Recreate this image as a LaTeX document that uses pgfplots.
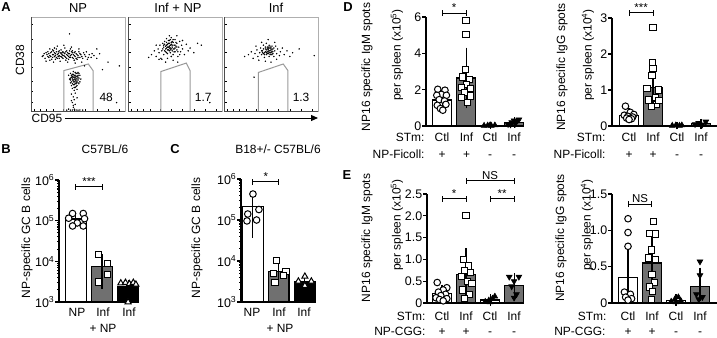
\documentclass[border=0pt]{standalone}
\usepackage{pgfplots}
\pgfplotsset{compat=1.18}
\usepackage{fontspec}
\setmainfont{Liberation Sans}
\usetikzlibrary{arrows.meta}
\definecolor{bgray}{RGB}{112,112,112}
\definecolor{fgray}{RGB}{175,175,175}
\newcommand{\fs}{\fontsize{11.5}{13}\selectfont}
\newcommand{\fr}{\fontsize{12}{14}\selectfont}
\newcommand{\fk}{\fontsize{12.5}{14}\selectfont}
\newcommand{\ft}{\fontsize{13}{15}\selectfont}
\newcommand{\fl}{\fontsize{13}{15}\selectfont\bfseries}

\pgfplotsset{
  flow/.style={scale only axis, anchor=south west, width=94bp, height=94bp,
    xmin=0, xmax=100, ymin=0, ymax=100, clip=false,
    axis line style={draw=fgray, line width=0.8bp},
    xtick={4,10,16,24,34,46,58,70,82,94}, ytick={9.6,21.3,31.9,46.8,62.8,76.6,92.5},
    xticklabels={}, yticklabels={},
    xtick pos=bottom, ytick pos=left, tick align=inside, major tick length=2.5bp,
    tick style={black, line width=0.6bp}},
  dots/.style={only marks, mark=*, mark size=0.5bp, mark options={draw=none, fill=black!80}},
  gate/.style={draw=black!40, line width=1bp},
  prism/.style={scale only axis, anchor=south west, clip=false,
    axis x line*=bottom, axis y line*=left,
    axis line style={line width=1.1bp, black},
    xtick=\empty, tick align=outside, major tick length=4bp,
    ytick style={line width=1.1bp, black},
    yticklabel style={font=\fk, inner sep=0.5bp}},
  pbar/.style={ybar, bar shift=0pt, bar width=0.78, draw=black, line width=1.1bp, fill=#1,
    error bars/y dir=both, error bars/y explicit,
    error bars/error bar style={line width=1.1bp, black},
    error bars/error mark options={mark size=3.5bp, line width=1.1bp, black}},
  circ/.style={only marks, mark=*, mark size=3.3bp, mark options={fill=white, draw=black, line width=1bp}},
  sq/.style={only marks, mark=square*, mark size=3.1bp, mark options={fill=white, draw=black, line width=1bp}},
  tri/.style={only marks, mark=triangle*, mark size=3.3bp, mark options={fill=black, draw=black, line width=0.6bp}},
  trid/.style={only marks, mark=triangle*, mark size=3.3bp, mark options={fill=black, draw=black, line width=0.6bp, rotate=180}},
  triw/.style={only marks, mark=triangle*, mark size=3.5bp, mark options={fill=white, draw=black, line width=1bp}},
}
\newcommand{\sig}[5]{%
  \draw[line width=1bp] (axis cs:#1,#3) -- (axis cs:#2,#3);
  \draw[line width=1bp] ([yshift=-3bp]axis cs:#1,#3) -- ([yshift=3bp]axis cs:#1,#3);
  \draw[line width=1bp] ([yshift=-3bp]axis cs:#2,#3) -- ([yshift=3bp]axis cs:#2,#3);
  \node[font=\fs, anchor=south, inner sep=1bp] at (axis cs:#4,#3) {#5};
}

\begin{document}
\begin{tikzpicture}
\path[use as bounding box] (0,0) rectangle (717bp,-338bp);

% ---------------- Panel A ----------------
\begin{axis}[flow, at={(31bp,-111bp)}]
\addplot[gate] coordinates {(35,0) (35,43) (61,50) (66,43) (66,0)};
\addplot[dots] coordinates {
(12,58) (14,61) (15,56) (17,60) (18,63) (19,57) (20,59) (21,62) (22,55) (23,60) (24,64) (25,58) (26,61) (27,57) (27,66) (28,60) (29,63) (30,56) (30,59) (31,62) (32,58) (32,65) (33,60) (34,56) (34,63) (35,59) (36,61) (36,67) (37,57) (38,60) (38,64) (39,62) (40,58) (40,55) (41,61) (42,59) (42,66) (43,63) (44,57) (45,60) (46,54) (46,62) (47,58) (48,61) (49,55) (50,59) (51,63) (52,57) (53,60) (55,56) (56,62) (58,58) (60,55) (62,60) (64,57) (67,59) (70,56) (73,61) (16,53) (20,66) (24,52) (28,69) (31,53) (35,70) (39,52) (43,68) (47,51) (51,66) (54,52) (25,67) (37,54) (33,62) (29,58) (26,55) (21,58) (44,64) (48,56) (41,57)
(13,59) (16,62) (18,58) (19,61) (22,63) (23,57) (24,60) (25,62) (26,59) (27,63) (28,56) (29,61) (30,64) (31,58) (32,61) (33,57) (34,59) (35,62) (36,58) (37,63) (38,56) (39,59) (40,61) (41,64) (42,57) (43,60) (44,62) (45,56) (46,59) (47,63) (49,60) (50,57) (52,61) (54,58) (57,60) (59,63) (61,57) (65,61) (20,54) (23,65)
(41,82) (82,52) (94,48) (91,9) (76,44) (57,48) (70,66)
(40,38) (41,34) (42,40) (42,30) (43,36) (43,27) (44,33) (44,39) (45,31) (45,36) (45,42) (46,28) (46,34) (46,38) (47,32) (47,25) (47,36) (48,30) (48,40) (48,34) (49,27) (49,37) (50,33) (50,41) (51,29) (51,35) (52,38) (52,31) (53,34) (44,24) (46,22) (49,23) (42,35) (50,36) (47,29) (45,39) (48,26) (43,31) (51,40) (44,29)
(43,38) (44,35) (45,33) (46,36) (46,31) (47,38) (47,34) (48,37) (48,32) (49,35) (49,31) (50,38) (45,28) (47,41) (44,37) (49,40) (46,25) (48,29) (50,30) (42,33)
(43,18) (45,15) (46,12) (44,9) (47,7) (45,4) (46,2) (48,1) (42,1) (50,1) (44,1) (47,19) (49,14) (43,11) (45,6) (40,2) (52,1) (38,1) (55,1)};
\node[font=\fr] at (axis cs:80,15) {48};
\draw[black!70, line width=0.8bp] (rel axis cs:0,1) -- (rel axis cs:0,0) -- (rel axis cs:1,0);
\end{axis}

\begin{axis}[flow, at={(128bp,-111bp)}]
\addplot[gate] coordinates {(35,0) (35,42) (62,51) (66,43) (66,0)};
\addplot[dots] coordinates {
(25,60) (28,64) (30,58) (32,66) (33,62) (34,70) (35,56) (36,64) (37,72) (38,60) (38,68) (39,74) (40,63) (40,66) (41,70) (41,77) (42,61) (42,68) (43,65) (43,72) (44,69) (44,75) (45,62) (45,67) (46,71) (46,78) (47,64) (47,68) (48,73) (48,60) (49,66) (49,70) (50,76) (50,63) (51,69) (52,65) (52,72) (53,58) (54,68) (55,74) (56,63) (57,70) (58,66) (60,60) (62,71) (64,64) (66,67) (70,62) (74,72) (36,55) (42,56) (48,54) (53,52) (30,70) (44,80) (52,80) (58,75) (46,58) (40,52) (55,60) (33,55)
(37,66) (38,70) (39,64) (40,69) (41,67) (41,73) (42,65) (42,71) (43,68) (43,75) (44,64) (44,72) (45,70) (45,76) (46,66) (46,73) (47,70) (48,66) (48,76) (49,63) (50,70) (50,67) (51,73) (52,68) (53,63) (39,71) (44,67) (47,74) (45,65) (41,62)
(87,9) (22,57) (78,70)};
\node[font=\fr] at (axis cs:80,15) {1.7};
\draw[black!70, line width=0.8bp] (rel axis cs:0,1) -- (rel axis cs:0,0) -- (rel axis cs:1,0);
\end{axis}

\begin{axis}[flow, at={(224bp,-111bp)}]
\addplot[gate] coordinates {(36.5,0) (36.5,41) (63,50) (68,43) (68,0)};
\addplot[dots] coordinates {
(22,58) (26,60) (29,63) (31,56) (33,61) (35,65) (36,58) (38,62) (39,67) (40,60) (41,64) (42,70) (43,57) (43,62) (44,66) (45,60) (45,72) (46,63) (46,68) (47,61) (47,65) (48,64) (48,58) (48,70) (49,62) (49,67) (50,60) (50,65) (51,63) (51,69) (52,61) (52,66) (53,58) (54,64) (55,69) (56,61) (57,66) (59,59) (60,63) (62,67) (64,60) (67,64) (70,58) (73,62) (37,54) (44,53) (50,52) (56,55) (40,73) (47,76) (54,73) (34,69)
(40,64) (41,62) (42,66) (43,60) (44,63) (44,68) (45,65) (46,61) (46,66) (47,63) (47,68) (48,62) (48,67) (49,64) (49,69) (50,62) (50,67) (51,65) (52,63) (53,67) (45,62) (47,66) (49,60) (42,61) (51,60)
(96,59) (32,36) (80,66)};
\node[font=\fr] at (axis cs:82,15) {1.3};
\draw[black!70, line width=0.8bp] (rel axis cs:0,1) -- (rel axis cs:0,0) -- (rel axis cs:1,0);
\end{axis}

\draw[line width=1bp, -{Triangle[length=7bp, width=6bp]}] (65bp,-118bp) -- (318bp,-118bp);
\node[font=\ft] at (78bp,-8bp) {NP};
\node[font=\ft] at (178bp,-8bp) {Inf + NP};
\node[font=\ft] at (276bp,-8bp) {Inf};
\node[font=\fr, rotate=90] at (20bp,-60bp) {CD38};
\node[font=\fr] at (47bp,-118bp) {CD95};

% ---------------- Panel B ----------------
\begin{axis}[prism, at={(59bp,-302bp)}, width=79bp, height=122bp,
  xmin=0.35, xmax=3.38, ymode=log, ymin=1e3, ymax=1e6, log origin=infty,
  ytick={1e3,1e4,1e5,1e6},
  yticklabels={10\textsuperscript{3},10\textsuperscript{4},10\textsuperscript{5},10\textsuperscript{6}},
  minor ytick={2e3,3e3,4e3,5e3,6e3,7e3,8e3,9e3,2e4,3e4,4e4,5e4,6e4,7e4,8e4,9e4,2e5,3e5,4e5,5e5,6e5,7e5,8e5,9e5},
  minor tick length=2bp]
\addplot[pbar=white] coordinates {(1,1.1e5) += (0,2.5e4) -= (0,2e4)};
\addplot[pbar=bgray] coordinates {(2,7.4e3) += (0,5.2e3) -= (0,4.8e3)};
\addplot[pbar=black] coordinates {(3,2.4e3) += (0,0.5e3) -= (0,0.5e3)};
\addplot[circ] coordinates {(0.87,1.5e5) (1.28,1.5e5) (0.72,1.15e5) (1.33,1.12e5) (1.05,8.8e4) (0.87,7.4e4) (1.28,7.4e4)};
\addplot[sq] coordinates {(1.86,1.5e4) (2.2,8.9e3) (2.2,4.7e3) (1.88,3.1e3)};
\addplot[triw] coordinates {(2.72,2.9e3) (2.9,3.0e3) (3.05,2.8e3) (3.2,3.0e3) (3.3,2.7e3) (3.0,1.0e3)};
\sig{1}{2}{6.8e5}{1.5}{***}
\end{axis}
\node[font=\fr, rotate=90] at (27bp,-238bp) {NP-specific GC B cells};
\node[font=\fr] at (105bp,-149bp) {C57BL/6};
\node[font=\fr, anchor=base] at (77bp,-316bp) {NP};
\node[font=\fr, anchor=base] at (103bp,-316bp) {Inf};
\node[font=\fr, anchor=base] at (103bp,-332bp) {+ NP};
\node[font=\fr, anchor=base] at (129bp,-316bp) {Inf};

% ---------------- Panel C ----------------
\begin{axis}[prism, at={(241bp,-302bp)}, width=74bp, height=123bp,
  xmin=0.54, xmax=3.39, ymode=log, ymin=1e3, ymax=1e6, log origin=infty,
  ytick={1e3,1e4,1e5,1e6},
  yticklabels={10\textsuperscript{3},10\textsuperscript{4},10\textsuperscript{5},10\textsuperscript{6}},
  minor ytick={2e3,3e3,4e3,5e3,6e3,7e3,8e3,9e3,2e4,3e4,4e4,5e4,6e4,7e4,8e4,9e4,2e5,3e5,4e5,5e5,6e5,7e5,8e5,9e5},
  minor tick length=2bp]
\addplot[pbar=white] coordinates {(1,2.1e5) += (0,1.5e5) -= (0,1.65e5)};
\addplot[pbar=bgray] coordinates {(2,5.5e3) += (0,2.5e3) -= (0,2.0e3)};
\addplot[pbar=black] coordinates {(3,3.2e3) += (0,1.0e3) -= (0,0.8e3)};
\addplot[circ] coordinates {(1.0,4.3e5) (1.23,1.8e5) (0.8,1.4e5) (0.77,9.5e4) (1.14,1.0e5)};
\addplot[sq] coordinates {(1.91,1.05e4) (2.27,5.5e3) (1.78,5.0e3) (1.85,3.0e3) (2.17,4.4e3)};
\addplot[triw] coordinates {(3.0,4.2e3) (2.75,3.2e3) (3.25,3.2e3) (3.0,2.5e3)};
\sig{1}{2}{8.5e5}{1.5}{*}
\end{axis}
\node[font=\fr, rotate=90] at (197bp,-238bp) {NP-specific GC B cells};
\node[font=\fr] at (278bp,-149bp) {B18+/- C57BL/6};
\node[font=\fr, anchor=base] at (252bp,-316bp) {NP};
\node[font=\fr, anchor=base] at (279bp,-316bp) {Inf};
\node[font=\fr, anchor=base] at (280bp,-332bp) {+ NP};
\node[font=\fr, anchor=base] at (304bp,-316bp) {Inf};

% ---------------- Panel D left ----------------
\begin{axis}[prism, at={(426bp,-126bp)}, width=96bp, height=109bp,
  xmin=0.33, xmax=4.33, ymin=0, ymax=6, ytick={0,2,4,6}, yticklabels={0,2,4,6}]
\addplot[pbar=white] coordinates {(1,1.43) +- (0,0.38)};
\addplot[pbar=bgray] coordinates {(2,2.64) +- (0,1.48)};
\addplot[pbar=white] coordinates {(3,0.03) +- (0,0.01)};
\addplot[pbar=bgray] coordinates {(4,0.19) +- (0,0.09)};
\addplot[circ] coordinates {(0.82,2.02) (1.12,1.97) (0.97,1.74) (0.78,1.69) (1.18,1.69) (0.88,1.45) (1.10,1.38) (0.80,1.14) (1.16,1.19) (0.93,0.96) (1.03,0.87)};
\addplot[sq] coordinates {(2.00,5.80) (2.00,5.05) (1.98,3.10) (1.85,2.70) (2.15,2.55) (2.02,2.30) (1.80,2.10) (2.20,2.05) (1.95,1.85) (2.18,1.65) (1.82,1.55) (2.05,1.30)};
\addplot[tri] coordinates {(2.75,0.02) (2.9,0.03) (3.05,0.02) (3.2,0.04) (3.0,0.05)};
\addplot[trid] coordinates {(3.75,0.1) (3.9,0.2) (4.0,0.3) (4.1,0.25) (4.2,0.35) (3.85,0.08) (4.05,0.12)};
\sig{1}{2}{6.22}{1.5}{*}
\end{axis}
\node[font=\fr, rotate=90] at (367bp,-67bp) {NP16 specific IgM spots};
\node[font=\fr, rotate=90] at (397bp,-55bp) {per spleen (x10\textsuperscript{5})};
\node[font=\fr, anchor=base east] at (428bp,-141bp) {STm:};
\node[font=\fr, anchor=base east] at (428bp,-158bp) {NP-Ficoll:};
\foreach \x/\a/\b in {442/Ctl/+, 466.5/Inf/+, 490/Ctl/-, 514/Inf/-} {
  \node[font=\fr, anchor=base] at (\x bp,-141bp) {\a};
  \node[font=\fr, anchor=base] at (\x bp,-158bp) {\b};
}

% ---------------- Panel D right ----------------
\begin{axis}[prism, at={(612bp,-126bp)}, width=105bp, height=108bp,
  xmin=0.29, xmax=4.665, ymin=0, ymax=3, ytick={0,1,2,3}, yticklabels={0,1,2,3}]
\addplot[pbar=white] coordinates {(1,0.30) +- (0,0.1)};
\addplot[pbar=bgray] coordinates {(2,1.07) +- (0,0.5)};
\addplot[pbar=white] coordinates {(3,0.01) +- (0,0.005)};
\addplot[pbar=bgray] coordinates {(4,0.06) +- (0,0.04)};
\addplot[circ] coordinates {(0.85,0.55) (1.05,0.38) (1.2,0.32) (0.8,0.3) (0.95,0.27) (1.15,0.25) (0.9,0.22) (1.1,0.2) (1.0,0.18)};
\addplot[sq] coordinates {(2.00,2.74) (1.98,1.75) (2.00,1.60) (1.96,1.40) (1.75,1.05) (2.22,1.00) (2.10,0.80) (1.82,0.72) (2.15,0.60) (1.95,0.55) (2.25,0.70)};
\addplot[tri] coordinates {(2.8,0.01) (2.95,0.02) (3.1,0.01) (3.2,0.02)};
\addplot[trid] coordinates {(3.75,0.05) (3.9,0.08) (4.05,0.04) (4.2,0.12) (4.0,0.02)};
\sig{1}{2}{3.14}{1.5}{***}
\end{axis}
\node[font=\fr, rotate=90] at (562bp,-67bp) {NP16 specific IgG spots};
\node[font=\fr, rotate=90] at (588bp,-55bp) {per spleen (x10\textsuperscript{4})};
\node[font=\fr, anchor=base east] at (609bp,-141bp) {STm:};
\node[font=\fr, anchor=base east] at (609bp,-158bp) {NP-Ficoll:};
\foreach \x/\a/\b in {629/Ctl/+, 653/Inf/+, 677/Ctl/-, 701/Inf/-} {
  \node[font=\fr, anchor=base] at (\x bp,-141bp) {\a};
  \node[font=\fr, anchor=base] at (\x bp,-158bp) {\b};
}

% ---------------- Panel E left ----------------
\begin{axis}[prism, at={(427bp,-303bp)}, width=95bp, height=109bp,
  xmin=0.375, xmax=4.33, ymin=0, ymax=2.5, ytick={0,0.5,1,1.5,2,2.5}, yticklabels={0,0.5,1.0,1.5,2.0,2.5}]
\addplot[pbar=white] coordinates {(1,0.21) +- (0,0.13)};
\addplot[pbar=bgray] coordinates {(2,0.66) +- (0,0.52)};
\addplot[pbar=white] coordinates {(3,0.07) +- (0,0.05)};
\addplot[pbar=bgray] coordinates {(4,0.40) +- (0,0.2)};
\addplot[circ] coordinates {(0.8,0.47) (1.2,0.35) (1.05,0.3) (0.85,0.25) (1.15,0.2) (0.95,0.17) (0.75,0.12) (1.2,0.1) (0.9,0.08) (1.05,0.05)};
\addplot[sq] coordinates {(2.0,2.0) (1.9,1.0) (2.1,0.85) (1.95,0.75) (2.2,0.7) (1.8,0.6) (2.05,0.5) (2.25,0.45) (1.85,0.3) (2.15,0.2) (1.95,0.1)};
\addplot[tri] coordinates {(2.8,0.03) (2.95,0.06) (3.1,0.1) (3.2,0.15) (3.0,0.02)};
\addplot[trid] coordinates {(3.8,0.6) (4.2,0.6) (4.0,0.5) (3.9,0.38) (4.1,0.2) (4.0,0.12)};
\sig{1}{2}{2.39}{1.5}{*}
\sig{3}{4}{2.39}{3.5}{**}
\sig{2}{4}{2.80}{3}{NS}
\end{axis}
\node[font=\fr, rotate=90] at (367bp,-238bp) {NP16 specific IgM spots};
\node[font=\fr, rotate=90] at (397bp,-225bp) {per spleen (x10\textsuperscript{5})};
\node[font=\fr, anchor=base east] at (429bp,-320bp) {STm:};
\node[font=\fr, anchor=base east] at (429bp,-335bp) {NP-CGG:};
\foreach \x/\a/\b in {442/Ctl/+, 466/Inf/+, 490/Ctl/-, 514/Inf/-} {
  \node[font=\fr, anchor=base] at (\x bp,-320bp) {\a};
  \node[font=\fr, anchor=base] at (\x bp,-335bp) {\b};
}

% ---------------- Panel E right ----------------
\begin{axis}[prism, at={(612bp,-303bp)}, width=105bp, height=109bp,
  xmin=0.333, xmax=4.71, ymin=0, ymax=1.5, ytick={0,0.5,1,1.5}, yticklabels={0,0.5,1.0,1.5}]
\addplot[pbar=white] coordinates {(1,0.35) += (0,0.43) -= (0,0.3)};
\addplot[pbar=bgray] coordinates {(2,0.55) +- (0,0.37)};
\addplot[pbar=white] coordinates {(3,0.04) +- (0,0.03)};
\addplot[pbar=bgray] coordinates {(4,0.23) += (0,0.21) -= (0,0.15)};
\addplot[circ] coordinates {(1.0,1.16) (1.0,0.97) (1.0,0.78) (0.85,0.15) (1.1,0.12) (0.9,0.08) (1.15,0.06) (1.0,0.04)};
\addplot[sq] coordinates {(2.05,1.12) (1.88,0.96) (2.15,0.95) (1.98,0.73) (1.85,0.62) (2.15,0.6) (2.0,0.39) (2.1,0.28) (1.9,0.22) (2.02,0.16) (1.98,0.05)};
\addplot[tri] coordinates {(2.8,0.02) (2.95,0.05) (3.1,0.08) (3.2,0.03) (3.0,0.01)};
\addplot[trid] coordinates {(4.0,0.57) (4.0,0.38) (3.85,0.12) (4.1,0.08) (3.95,0.05)};
\sig{1}{2}{1.36}{1.5}{NS}
\end{axis}
\node[font=\fr, rotate=90] at (561bp,-238bp) {NP16 specific IgG spots};
\node[font=\fr, rotate=90] at (587bp,-225bp) {per spleen (x10\textsuperscript{4})};
\node[font=\fr, anchor=base east] at (610bp,-320bp) {STm:};
\node[font=\fr, anchor=base east] at (609bp,-335bp) {NP-CGG:};
\foreach \x/\a/\b in {628/Ctl/+, 652/Inf/+, 676/Ctl/-, 700/Inf/-} {
  \node[font=\fr, anchor=base] at (\x bp,-320bp) {\a};
  \node[font=\fr, anchor=base] at (\x bp,-335bp) {\b};
}

% ---------------- Panel letters ----------------
\node[font=\fl] at (6bp,-7bp) {A};
\node[font=\fl] at (6bp,-149bp) {B};
\node[font=\fl] at (175bp,-149bp) {C};
\node[font=\fl] at (348bp,-7bp) {D};
\node[font=\fl] at (347bp,-175bp) {E};
\end{tikzpicture}
\end{document}
